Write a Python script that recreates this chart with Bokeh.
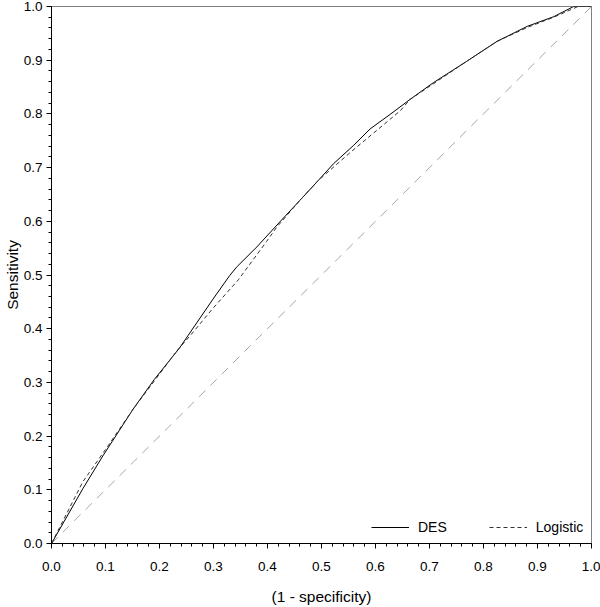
from bokeh.plotting import figure
from bokeh.models import Range1d, SingleIntervalTicker, PrintfTickFormatter, Legend, LegendItem
from bokeh.embed import file_html
from bokeh.resources import INLINE

# ROC data
des_fpr = [0.0, 0.058, 0.095, 0.151, 0.19, 0.237, 0.299, 0.330, 0.343, 0.380, 0.423, 0.460,
           0.494, 0.522, 0.559, 0.590, 0.627, 0.664, 0.707, 0.769, 0.825, 0.881, 0.930, 0.967, 1.0]
des_tpr = [0.0, 0.102, 0.163, 0.250, 0.305, 0.364, 0.455, 0.499, 0.515, 0.552, 0.599, 0.639,
           0.676, 0.707, 0.741, 0.772, 0.799, 0.827, 0.858, 0.898, 0.935, 0.963, 0.981, 1.0, 1.0]

log_fpr = [0.0, 0.058, 0.100, 0.151, 0.234, 0.256, 0.299, 0.346, 0.398, 0.417, 0.460, 0.494,
           0.553, 0.602, 0.646, 0.664, 0.707, 0.769, 0.825, 0.881, 0.930, 0.975, 1.0]
log_tpr = [0.0, 0.115, 0.175, 0.250, 0.361, 0.386, 0.438, 0.491, 0.562, 0.589, 0.639, 0.676,
           0.728, 0.769, 0.806, 0.827, 0.856, 0.898, 0.935, 0.961, 0.980, 1.0, 1.0]

diag = [0.0, 1.0]

FONT = "Liberation Sans"

p = figure(width=600, height=607, output_backend="svg", toolbar_location=None,
           x_range=Range1d(0, 1), y_range=Range1d(0, 1),
           min_border_left=44, min_border_right=9, min_border_top=6, min_border_bottom=64)
p.grid.visible = False
p.outline_line_color = "#808080"
p.outline_line_width = 1

p.line(diag, diag, line_color="#a6a6a6", line_width=1, line_dash="9 7")
r_des = p.line(des_fpr, des_tpr, line_color="black", line_width=1)
r_log = p.line(log_fpr, log_tpr, line_color="#333333", line_width=1, line_dash="4 3")

for ax in (p.xaxis[0], p.yaxis[0]):
    ax.ticker = SingleIntervalTicker(interval=0.1, num_minor_ticks=5)
    ax.formatter = PrintfTickFormatter(format="%.1f")
    ax.major_label_text_font = FONT
    ax.major_label_text_font_size = "13.5px"
    ax.major_label_text_color = "black"
    ax.axis_label_text_font = FONT
    ax.axis_label_text_font_size = "15.5px"
    ax.axis_label_text_font_style = "normal"
    ax.axis_label_text_color = "black"
    ax.axis_line_color = "black"
    ax.major_tick_line_color = "black"
    ax.minor_tick_line_color = "black"
    ax.major_tick_out = 5
    ax.major_tick_in = 0
    ax.minor_tick_out = 3
    ax.minor_tick_in = 0

p.xaxis.axis_label = "(1 - specificity)"
p.yaxis.axis_label = "Sensitivity"
p.xaxis.major_label_standoff = 13
p.xaxis.axis_label_standoff = 14
p.yaxis.major_label_standoff = 4
p.yaxis.axis_label_standoff = 0

legend = Legend(items=[LegendItem(label="DES", renderers=[r_des]),
                       LegendItem(label="Logistic", renderers=[r_log])],
                orientation="horizontal", location=(320, 8),
                border_line_color=None, background_fill_alpha=0,
                padding=0, margin=0, spacing=42, glyph_width=38, glyph_height=16,
                label_height=16, label_standoff=9,
                label_text_font=FONT, label_text_font_size="14px", label_text_color="black")
p.add_layout(legend, "center")

open("out.html", "w").write(file_html(p, INLINE))
